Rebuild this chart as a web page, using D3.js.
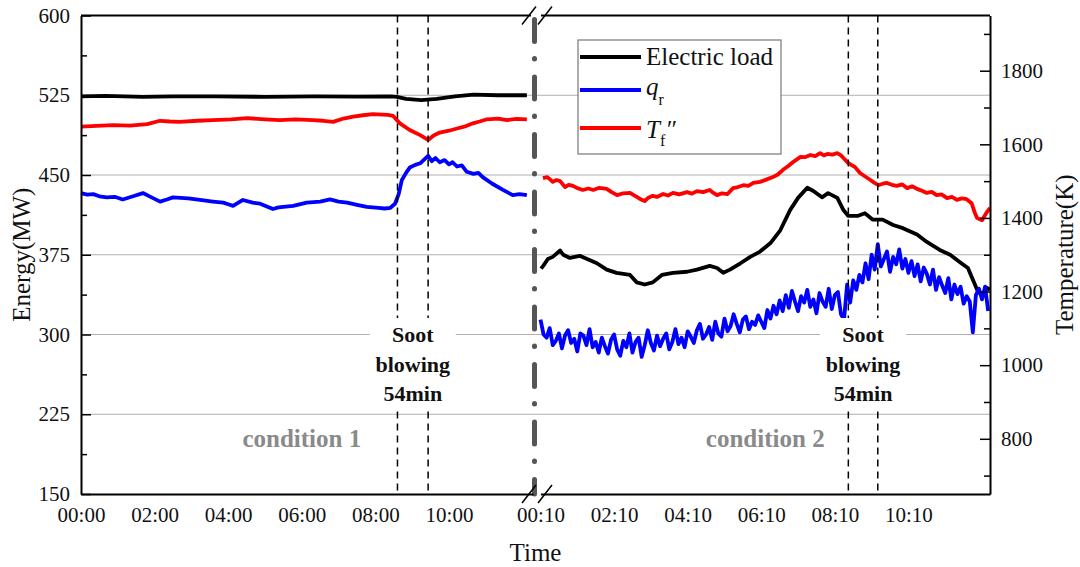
<!DOCTYPE html>
<html>
<head>
<meta charset="utf-8">
<script src="https://cdn.jsdelivr.net/npm/d3@7/dist/d3.min.js"></script>
<style>
    body { margin: 0; background: #fff; }
    svg { font-family: "Liberation Serif", "Times New Roman", serif; }
    .axis text { font-size: 21px; fill: #111; }
    .axis path, .axis line { stroke: #000; }
</style>
</head>
<body>
<div id="chart"></div>
<script>
// Tick values / labels (minutes since start of each day shown)
var leftTickMinutes = [0, 120, 240, 360, 480, 600];
var leftTickLabels = ["00:00", "02:00", "04:00", "06:00", "08:00", "10:00"];
var rightTickMinutes = [10, 130, 250, 370, 490, 610];
var rightTickLabels = ["00:10", "02:10", "04:10", "06:10", "08:10", "10:10"];
var energyTicks = [150, 225, 300, 375, 450, 525, 600];
var energyMinorTicks = [187.5, 262.5, 337.5, 412.5, 487.5, 562.5];
var energyGrid = [225, 300, 375, 450, 525];
var tempTicks = [800, 1000, 1200, 1400, 1600, 1800];
var tempMinorTicks = [700, 900, 1100, 1300, 1500, 1700, 1900];

// Soot blowing start / end (minutes)
var soot1 = [516, 566];
var soot2 = [512, 560];

// condition 1: [minute, value]
var load1 = [[0, 524], [40, 524.5], [70, 524], [100, 523.5], [150, 524], [220, 524], [300, 523.5],
    [380, 524], [450, 523.8], [505, 524], [515, 523.5], [530, 521.5], [555, 520.5], [580, 521.5],
    [610, 524], [640, 525.5], [680, 525], [727, 525]];
var qr1 = [[0, 433], [10, 431.5], [20, 432], [30, 430], [42, 429], [55, 429.5], [68, 427], [85, 430],
    [101, 433], [115, 429], [129, 425], [140, 427], [150, 429], [175, 428], [194, 426.5], [215, 425],
    [232, 424], [240, 422.5], [248, 421], [264, 426.5], [280, 424], [292, 423], [305, 420], [313, 418],
    [322, 419.5], [330, 420], [346, 421], [368, 424], [390, 425], [406, 427], [420, 425], [434, 424],
    [450, 422], [466, 420], [485, 419], [495, 418.5], [504, 419], [512, 423], [518, 432], [523, 445],
    [530, 452], [536, 457], [545, 459.5], [553, 461], [566, 468], [572, 463], [578, 466], [585, 462],
    [593, 464], [600, 460], [606, 462], [613, 458], [621, 459], [629, 453], [640, 451], [648, 452],
    [655, 448], [670, 442], [688, 436], [704, 431], [715, 432], [727, 431]];
var temp1 = [[0, 1648], [25, 1650], [52, 1652], [80, 1651], [108, 1655], [129, 1664], [145, 1662],
    [161, 1661], [190, 1664], [215, 1666], [245, 1668], [271, 1671], [300, 1668], [324, 1666],
    [350, 1668], [378, 1666], [395, 1664], [411, 1661], [428, 1670], [444, 1675], [460, 1679],
    [476, 1682], [500, 1680], [509, 1677], [520, 1657], [536, 1639], [553, 1625], [566, 1612],
    [575, 1624], [585, 1632], [600, 1637], [613, 1643], [625, 1648], [639, 1657], [650, 1662],
    [662, 1668], [680, 1670], [695, 1666], [710, 1669], [727, 1668]];

// condition 2: [minute, value]
var load2 = [[11, 362], [15, 365], [22, 371], [30, 373], [42, 379], [47, 375], [58, 372], [74, 374],
    [86, 371], [102, 367], [118, 361], [134, 358], [156, 356], [167, 349], [180, 347], [193, 349],
    [208, 356], [226, 358], [249, 359], [265, 361], [286, 364.5], [298, 362.5], [308, 358], [319, 361],
    [336, 367], [352, 373], [368, 378], [385, 386], [401, 398], [417, 417], [430, 428.5], [445, 438],
    [455, 435], [469, 429], [479, 433], [494, 428.5], [504, 417], [512, 411.5], [527, 411.5],
    [539, 414], [552, 408], [568, 408], [585, 403], [601, 400], [624, 394], [640, 387], [661, 379.5],
    [678, 375], [694, 368], [707, 362.5], [722, 342], [730, 337], [738, 344], [743, 342]];
var temp2 = [[14, 1508], [21, 1511], [26, 1504], [30, 1498], [36, 1503], [42, 1500], [50, 1484],
    [56, 1490], [63, 1487], [70, 1481], [79, 1476], [88, 1480], [96, 1476], [106, 1482], [118, 1479],
    [126, 1470], [135, 1462], [145, 1467], [156, 1468], [162, 1462], [167, 1457], [173, 1451],
    [180, 1446], [186, 1455], [193, 1460], [200, 1457], [210, 1465], [218, 1461], [226, 1468],
    [236, 1464], [249, 1470], [257, 1466], [265, 1473], [275, 1470], [286, 1476], [292, 1468],
    [298, 1462], [306, 1467], [315, 1465], [324, 1481], [332, 1484], [341, 1489], [349, 1487],
    [357, 1495], [368, 1498], [378, 1504], [389, 1511], [397, 1518], [405, 1530], [414, 1541],
    [422, 1552], [434, 1566], [441, 1565], [450, 1571], [458, 1568], [466, 1576], [472, 1570],
    [478, 1574], [486, 1572], [494, 1576], [500, 1570], [504, 1563], [512, 1549], [523, 1538],
    [531, 1522], [540, 1512], [548, 1503], [554, 1496], [561, 1489], [568, 1493], [575, 1495],
    [583, 1490], [591, 1487], [600, 1491], [608, 1481], [616, 1486], [624, 1479], [632, 1474],
    [640, 1468], [648, 1471], [656, 1462], [664, 1464], [673, 1454], [681, 1457], [689, 1449],
    [697, 1453], [705, 1451], [713, 1440], [718, 1415], [722, 1400], [730, 1394], [738, 1416],
    [743, 1427]];
// q_r in condition 2 is sampled every 5 min from 00:10
var qr2Start = 10, qr2Step = 5;
var qr2Values = [
    314, 300, 297, 306, 290, 294, 301, 287, 299, 304,
    292, 296, 284, 301, 299, 290, 305, 288, 293, 283,
    297, 289, 282, 295, 300, 286, 280, 294, 288, 301,
    283, 293, 297, 279, 290, 304, 292, 285, 299, 289,
    296, 301, 286, 293, 305, 291, 297, 288, 303, 298,
    292, 304, 310, 296, 300, 307, 295, 312, 301, 298,
    315, 303, 308, 319, 310, 302, 314, 317, 305, 312,
    309, 318, 312, 306, 323, 315, 327, 319, 332, 322,
    337, 325, 341, 331, 322, 336, 330, 342, 326, 333,
    320, 339, 331, 326, 343, 324, 337, 340, 319, 314,
    347, 330, 351, 342, 356, 349, 367, 352, 375, 361,
    385, 364, 371, 378, 359, 373, 366, 380, 362, 371,
    358, 369, 355, 366, 350, 363, 357, 347, 361, 342,
    354, 346, 339, 353, 333, 347, 338, 345, 329, 336,
    331, 302, 337, 343, 333, 345, 322];

// SVG + plot dimensions
var svgWidth = 1080, svgHeight = 567;
var plot = { left: 81, right: 990, top: 15.5, bottom: 494 };
var brk = { leftEnd: 533, rightStart: 540.5, mid: 534.5 };
var serif = "Liberation Serif, Times New Roman, serif";

var svg = d3.select("#chart").append("svg")
    .attr("width", svgWidth).attr("height", svgHeight);

// scales: two time segments, energy (left) and temperature (right)
var x1 = d3.scaleLinear().domain([0, 737]).range([plot.left, brk.leftEnd]);
var x2 = d3.scaleLinear().domain([10, 743]).range([brk.rightStart, plot.right]);
var yE = d3.scaleLinear().domain([150, 600]).range([plot.bottom, plot.top]);
var yT = d3.scaleLinear().domain([650, 1950]).range([plot.bottom, plot.top]);

// gridlines
svg.append("g").selectAll("line").data(energyGrid).enter().append("line")
    .attr("x1", plot.left).attr("x2", plot.right)
    .attr("y1", d => yE(d)).attr("y2", d => yE(d))
    .attr("stroke", "#b0b0b0").attr("stroke-width", 1);

// series
function drawLine(data, x, y, color) {
    svg.append("path").datum(data)
        .attr("d", d3.line().x(d => x(d[0])).y(d => y(d[1])))
        .attr("fill", "none").attr("stroke", color)
        .attr("stroke-width", 3.8).attr("stroke-linejoin", "round");
}
var qr2 = qr2Values.map((v, i) => [qr2Start + i * qr2Step, v]);

drawLine(load1, x1, yE, "#000");
drawLine(temp1, x1, yT, "#ff0000");
drawLine(qr1, x1, yE, "#0000ff");
drawLine(load2, x2, yE, "#000");
drawLine(temp2, x2, yT, "#ff0000");
drawLine(qr2, x2, yE, "#0000ff");

// soot blowing markers
var sootLines = soot1.map(m => x1(m)).concat(soot2.map(m => x2(m)));
svg.append("g").selectAll("line").data(sootLines).enter().append("line")
    .attr("x1", d => d).attr("x2", d => d)
    .attr("y1", plot.top).attr("y2", plot.bottom)
    .attr("stroke", "#000").attr("stroke-width", 1.5)
    .attr("stroke-dasharray", "7,5");

// break line between the two conditions
svg.append("line")
    .attr("x1", brk.mid).attr("x2", brk.mid)
    .attr("y1", plot.top + 4).attr("y2", plot.bottom)
    .attr("stroke", "#555").attr("stroke-width", 5)
    .attr("stroke-linecap", "round")
    .attr("stroke-dasharray", "22,17,0.5,18");

// soot blowing labels
var sootCenters = [(x1(soot1[0]) + x1(soot1[1])) / 2, (x2(soot2[0]) + x2(soot2[1])) / 2];
sootCenters.forEach(cx => {
    svg.append("rect").attr("x", cx - 43).attr("y", 318).attr("width", 86).attr("height", 92)
        .attr("fill", "#fff");
    var t = svg.append("text").attr("text-anchor", "middle")
        .attr("font-weight", "bold").attr("font-size", 22).attr("fill", "#111");
    ["Soot", "blowing", "54min"].forEach((s, i) => {
        t.append("tspan").attr("x", cx).attr("y", 342 + i * 29.5).text(s);
    });
});

// condition labels
svg.append("text").attr("x", x1(360)).attr("y", 447)
    .attr("text-anchor", "middle").attr("font-weight", "bold").attr("font-size", 25)
    .attr("fill", "#8a8a8a").text("condition 1");
svg.append("text").attr("x", x2(370) + 4).attr("y", 447)
    .attr("text-anchor", "middle").attr("font-weight", "bold").attr("font-size", 25)
    .attr("fill", "#8a8a8a").text("condition 2");

// axes (d3 puts sans-serif on the group, so reset it afterwards)
function serifAxis(g) {
    g.attr("font-family", serif).attr("font-size", 21);
    g.selectAll("text").attr("font-family", serif);
}
svg.append("g").attr("class", "axis")
    .attr("transform", `translate(0,${plot.bottom})`)
    .call(d3.axisBottom(x1).tickValues(leftTickMinutes)
        .tickFormat((d, i) => leftTickLabels[i]).tickSize(0).tickPadding(13))
    .call(serifAxis)
    .select(".domain").attr("stroke-width", 2);
svg.append("g").attr("class", "axis")
    .attr("transform", `translate(0,${plot.bottom})`)
    .call(d3.axisBottom(x2).tickValues(rightTickMinutes)
        .tickFormat((d, i) => rightTickLabels[i]).tickSize(0).tickPadding(13))
    .call(serifAxis)
    .select(".domain").attr("stroke-width", 2);

var leftAxis = svg.append("g").attr("class", "axis")
    .attr("transform", `translate(${plot.left},0)`)
    .call(d3.axisLeft(yE).tickValues(energyTicks).tickSize(-10).tickSizeOuter(0).tickPadding(11))
    .call(serifAxis);
leftAxis.select(".domain").attr("stroke-width", 2);
leftAxis.selectAll(".tick line").attr("stroke-width", 1.5);
svg.append("g").attr("class", "axis")
    .attr("transform", `translate(${plot.left},0)`)
    .call(d3.axisLeft(yE).tickValues(energyMinorTicks).tickSize(-6).tickFormat(""))
    .call(g => g.select(".domain").remove())
    .selectAll(".tick line").attr("stroke-width", 1.5);

var rightAxis = svg.append("g").attr("class", "axis")
    .attr("transform", `translate(${plot.right},0)`)
    .call(d3.axisRight(yT).tickValues(tempTicks).tickFormat(d3.format("d"))
        .tickSize(-10).tickSizeOuter(0).tickPadding(11))
    .call(serifAxis);
rightAxis.select(".domain").attr("stroke-width", 2);
rightAxis.selectAll(".tick line").attr("stroke-width", 1.5);
svg.append("g").attr("class", "axis")
    .attr("transform", `translate(${plot.right},0)`)
    .call(d3.axisRight(yT).tickValues(tempMinorTicks).tickSize(-6).tickFormat(""))
    .call(g => g.select(".domain").remove())
    .selectAll(".tick line").attr("stroke-width", 1.5);

// top frame with break
[[plot.left, 531], [541, plot.right]].forEach(s => {
    svg.append("line").attr("x1", s[0]).attr("x2", s[1])
        .attr("y1", plot.top).attr("y2", plot.top)
        .attr("stroke", "#000").attr("stroke-width", 2);
});
// break slashes
[plot.top, plot.bottom].forEach(y => {
    [529, 545].forEach(cx => {
        svg.append("line").attr("x1", cx - 7).attr("y1", y + 9)
            .attr("x2", cx + 7).attr("y2", y - 9)
            .attr("stroke", "#000").attr("stroke-width", 1.5);
    });
});

// axis titles
svg.append("text").attr("transform", `translate(30,${(plot.top + plot.bottom) / 2})rotate(-90)`)
    .attr("text-anchor", "middle").attr("font-size", 25).attr("fill", "#111").text("Energy(MW)");
svg.append("text").attr("transform", `translate(1073,${(plot.top + plot.bottom) / 2})rotate(-90)`)
    .attr("text-anchor", "middle").attr("font-size", 25).attr("fill", "#111").text("Temperature(K)");
svg.append("text").attr("x", (plot.left + plot.right) / 2).attr("y", 561)
    .attr("text-anchor", "middle").attr("font-size", 25).attr("fill", "#111").text("Time");

// legend
var legend = svg.append("g").attr("transform", "translate(578,40)");
legend.append("rect").attr("width", 203).attr("height", 114)
    .attr("fill", "#fff").attr("stroke", "#777").attr("stroke-width", 1.2);
var legendRows = [{ color: "#000", y: 17 }, { color: "#0000ff", y: 50 }, { color: "#ff0000", y: 88 }];
legendRows.forEach(r => {
    legend.append("line").attr("x1", 2).attr("x2", 63).attr("y1", r.y).attr("y2", r.y)
        .attr("stroke", r.color).attr("stroke-width", 4);
});
legend.append("text").attr("x", 68).attr("y", 25).attr("font-size", 25).attr("fill", "#111")
    .text("Electric load");
var qText = legend.append("text").attr("x", 68).attr("y", 55).attr("font-size", 25).attr("fill", "#111");
qText.append("tspan").attr("font-style", "italic").text("q");
qText.append("tspan").attr("font-size", 16).attr("dy", 10).text("r");
var tText = legend.append("text").attr("x", 68).attr("y", 98).attr("font-size", 25).attr("fill", "#111");
tText.append("tspan").attr("font-style", "italic").text("T");
tText.append("tspan").attr("font-size", 16).attr("dy", 8).text("f");
tText.append("tspan").attr("font-style", "italic").attr("dy", -8).text("\u2033");
</script>
</body>
</html>
